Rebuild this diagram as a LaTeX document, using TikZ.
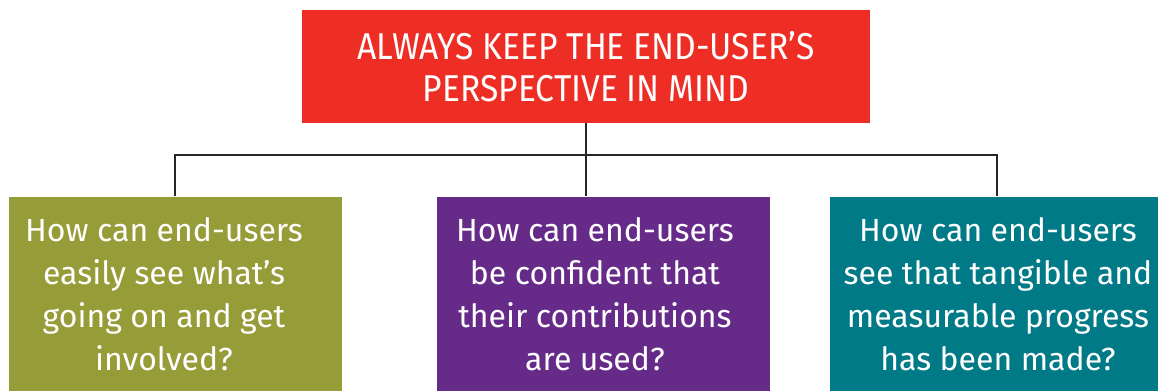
\documentclass[tikz,border=0pt]{standalone}
\usepackage{fontspec}
\setmainfont{Fira Sans}
\newfontfamily\headfont[FakeStretch=0.9]{Fira Sans}
\definecolor{headred}{HTML}{EE2E24}
\definecolor{olive}{HTML}{959C38}
\definecolor{plum}{HTML}{662B89}
\definecolor{tealbox}{HTML}{007A87}
\tikzset{
  box/.style={inner sep=0pt, text=white, align=center},
  link/.style={draw=black!85, line width=1.6pt}
}
\begin{document}
\begin{tikzpicture}[x=0.75pt, y=-0.75pt]
      \useasboundingbox[fill=white] (0,0) rectangle (1158,390);
      \node[box, fill=headred, minimum width=568*0.75pt, minimum height=113*0.75pt,
        font=\headfont\fontsize{28}{31.5}\selectfont] (top) at (586,66.5)
        {ALWAYS KEEP THE END-USER’S\\PERSPECTIVE IN MIND};
      \node[box, fill=olive, minimum width=333*0.75pt, minimum height=194*0.75pt,
        font=\fontsize{24}{32.3}\selectfont] (use) at (175.5,293.5) {};
      \node[box, fill=plum, minimum width=333*0.75pt, minimum height=194*0.75pt,
        font=\fontsize{24}{32.3}\selectfont] (used) at (603.5,293.5) {};
      \node[box, fill=tealbox, minimum width=328*0.75pt, minimum height=194*0.75pt,
        font=\fontsize{24}{32.3}\selectfont] (made) at (994,293.5) {};
      \node[box, font=\fontsize{24}{32.3}\selectfont] at (164,294)
        {How can end-users\\easily see what’s\\going on and get\\involved?};
      \node[box, font=\fontsize{24}{32.3}\selectfont] at (595,294)
        {How can end-users\\be confident that\\their contributions\\are used?};
      \node[box, font=\fontsize{24}{32.3}\selectfont] at (998,294)
        {How can end-users\\see that tangible and\\measurable progress\\has been made?};
      \coordinate (bar) at (586,155);
      \begin{scope}[link]
        \draw (top.south) -- (bar);
        \draw (bar) -- (bar |- used.north);
        \draw (175,0 |- use.north) -- (175,155) -- (997,155) -- (997,0 |- made.north);
      \end{scope}
    \end{tikzpicture}
\end{document}
